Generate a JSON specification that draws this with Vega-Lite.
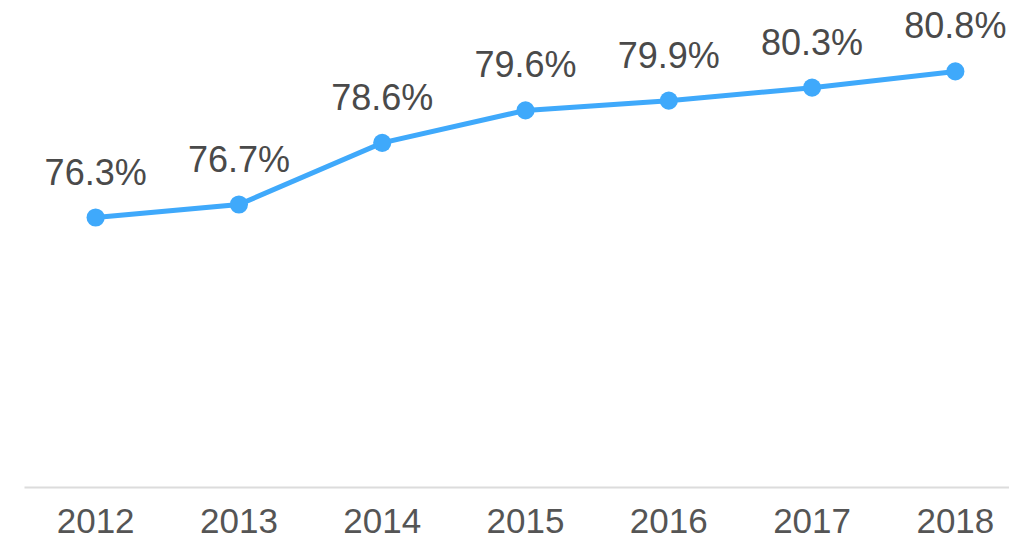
{
  "$schema": "https://vega.github.io/schema/vega-lite/v6.json",
  "autosize": "none",
  "padding": {"left": 24, "top": 0, "right": 0, "bottom": 53},
  "width": 1003,
  "height": 487,
  "background": "white",
  "config": {"view": {"stroke": null}},
  "data": {"values": [
    {"year": "2012", "value": 76.3, "label": "76.3%"},
    {"year": "2013", "value": 76.7, "label": "76.7%"},
    {"year": "2014", "value": 78.6, "label": "78.6%"},
    {"year": "2015", "value": 79.6, "label": "79.6%"},
    {"year": "2016", "value": 79.9, "label": "79.9%"},
    {"year": "2017", "value": 80.3, "label": "80.3%"},
    {"year": "2018", "value": 80.8, "label": "80.8%"}
  ]},
  "encoding": {
    "x": {"field": "year", "type": "ordinal", "scale": {"type": "band", "paddingInner": 0, "paddingOuter": 0},
      "axis": {"title": null, "labelAngle": 0, "ticks": false, "domainColor": "#dcdcdc", "domainWidth": 2,
        "labelFont": "Liberation Sans", "labelFontSize": 35, "labelColor": "#555555", "labelPadding": 17}},
    "y": {"field": "value", "type": "quantitative", "scale": {"domain": [68, 83], "zero": false}, "axis": null}
  },
  "layer": [
    {"mark": {"type": "line", "color": "#3fa9fb", "strokeWidth": 5}},
    {"mark": {"type": "point", "filled": true, "opacity": 1, "color": "#3fa9fb", "size": 330}},
    {"mark": {"type": "text", "font": "Liberation Sans", "fontSize": 36, "color": "#4a4a4a", "baseline": "alphabetic", "dy": -33},
      "encoding": {"text": {"field": "label"}}}
  ]
}
